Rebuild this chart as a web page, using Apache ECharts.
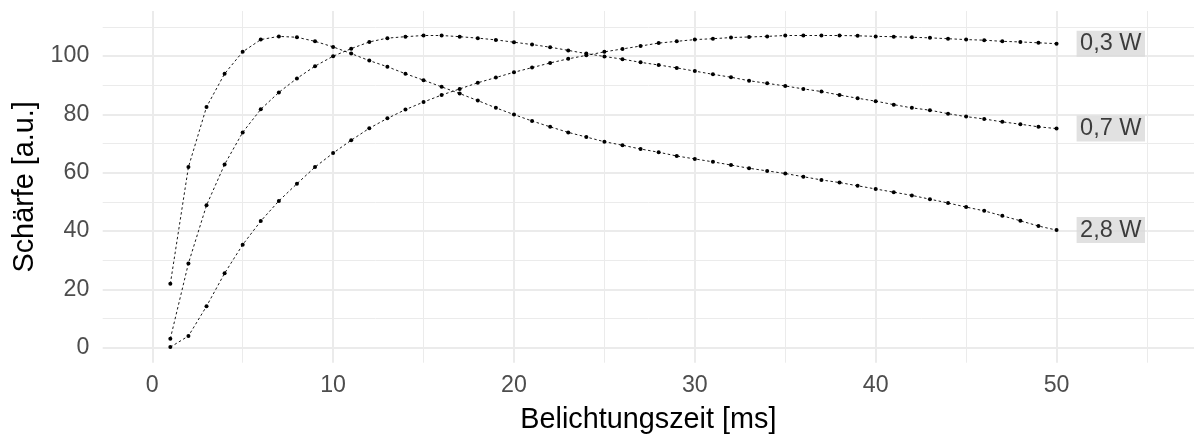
<!DOCTYPE html>
<html>
<head>
<meta charset="utf-8">
<script src="https://cdn.jsdelivr.net/npm/echarts@6/dist/echarts.min.js"></script>
<style>
  html, body { margin: 0; padding: 0; background: #ffffff; }
  #chart { width: 1194px; height: 435px; }
</style>
</head>
<body>
<div id="chart"></div>
<script>
// ---- data ----
const exposureMs = [1,2,3,4,5,6,7,8,9,10,11,12,13,14,15,16,17,18,19,20,21,22,23,24,25,26,27,28,29,30,31,32,33,34,35,36,37,38,39,40,41,42,43,44,45,46,47,48,49,50];
const sharp03W = [0.2,4.0,14.2,25.5,35.3,43.4,50.3,56.2,61.9,66.7,71.1,75.2,78.6,81.6,84.2,86.6,88.7,90.8,92.6,94.4,96.0,97.6,99.0,100.2,101.4,102.4,103.4,104.4,105.0,105.6,105.9,106.3,106.5,106.7,107.0,107.0,107.0,107.0,106.9,106.7,106.6,106.4,106.2,105.9,105.6,105.4,105.0,104.8,104.5,104.2];
const sharp07W = [3.1,28.9,48.8,62.8,73.8,81.7,87.5,92.3,96.5,99.9,102.5,104.8,106.1,106.6,107.0,107.0,106.6,106.1,105.5,104.7,103.9,103.0,101.9,100.8,99.8,98.9,97.8,96.9,95.9,94.8,93.7,92.7,91.5,90.6,89.7,88.7,87.8,86.6,85.5,84.5,83.3,82.2,81.4,80.2,79.2,78.4,77.4,76.6,75.7,75.1];
const sharp28W = [21.9,61.9,82.5,93.9,101.4,105.6,106.7,106.4,105.0,103.1,100.8,98.4,96.3,93.9,91.7,89.4,87.1,84.7,82.2,79.9,77.7,75.7,73.8,72.2,70.6,69.4,68.1,67.0,65.7,64.7,63.7,62.6,61.5,60.6,59.7,58.6,57.5,56.6,55.5,54.4,53.3,52.2,50.9,49.6,48.2,46.9,45.2,43.5,41.7,40.3];
const seriesNames = ['0,3 W', '0,7 W', '2,8 W'];
const xMajorTicks = [0,10,20,30,40,50];
const xMinorTicks = [5,15,25,35,45,55];
const yMajorTicks = [0,20,40,60,80,100];
const yMinorTicks = [10,30,50,70,90,110];
const xTitle = 'Belichtungszeit [ms]';
const yTitle = 'Schärfe [a.u.]';
const labelX = 53;

// ---- chart ----
const FONT = '"Liberation Sans", Arial, sans-serif';
const X_MIN = -2.74, X_MAX = 57.6, Y_MIN = -5.14, Y_MAX = 115.4;
const GRID_COLOR = '#ebebeb';

const allSeries = [sharp03W, sharp07W, sharp28W];
const pairs = s => exposureMs.map((x, i) => [x, s[i]]);

const lineSeries = allSeries.map((s, k) => ({
  name: seriesNames[k],
  type: 'line',
  data: pairs(s),
  smooth: false,
  symbol: 'circle',
  symbolSize: 4,
  itemStyle: { color: '#000000' },
  lineStyle: { color: '#000000', width: 0.9, type: [2.5, 2.5] },
  emphasis: { disabled: true },
  silent: true,
  z: 3
}));

const labelSeries = {
  type: 'scatter',
  data: allSeries.map((s, k) => ({ value: [labelX, s[s.length - 1]], name: seriesNames[k] })),
  symbolSize: 0,
  silent: true,
  z: 4,
  label: {
    show: true,
    position: 'inside',
    formatter: p => p.name,
    fontFamily: FONT,
    fontSize: 23.5,
    lineHeight: 24,
    color: '#111111',
    backgroundColor: '#d9d9d9',
    padding: [1, 3.5, 1, 3.5]
  }
};

function gridAxis(ticks, width, extra) {
  return Object.assign({
    type: 'value',
    axisLine: { show: false },
    axisTick: { show: false, customValues: ticks },
    axisLabel: { show: false },
    splitLine: { show: true, lineStyle: { color: GRID_COLOR, width: width } }
  }, extra);
}

const chart = echarts.init(document.getElementById('chart'), null, { renderer: 'canvas' });
chart.setOption({
  backgroundColor: '#ffffff',
  animation: false,
  textStyle: { fontFamily: FONT },
  grid: { left: 102.7, right: 0, top: 11, bottom: 72.3, containLabel: false, outerBoundsMode: 'none' },
  xAxis: [
    gridAxis(xMajorTicks, 2, {
      min: X_MIN, max: X_MAX, position: 'bottom',
      axisLabel: { show: true, customValues: xMajorTicks, fontFamily: FONT, fontSize: 23.2, color: '#4d4d4d', margin: 11 },
      name: xTitle, nameLocation: 'middle', nameGap: 42.5,
      nameTextStyle: { fontFamily: FONT, fontSize: 28.8, color: '#000000' }
    }),
    gridAxis(xMinorTicks, 1, { min: X_MIN, max: X_MAX, position: 'bottom' })
  ],
  yAxis: [
    gridAxis(yMajorTicks, 2, {
      min: Y_MIN, max: Y_MAX, position: 'left',
      axisLabel: { show: true, customValues: yMajorTicks, fontFamily: FONT, fontSize: 23.2, color: '#4d4d4d', margin: 13.4 },
      name: yTitle, nameLocation: 'middle', nameGap: 58, nameRotate: 90,
      nameTextStyle: { fontFamily: FONT, fontSize: 28.8, color: '#000000' }
    }),
    gridAxis(yMinorTicks, 1, { min: Y_MIN, max: Y_MAX, position: 'left' })
  ],
  series: lineSeries.concat([labelSeries])
});
</script>
</body>
</html>
